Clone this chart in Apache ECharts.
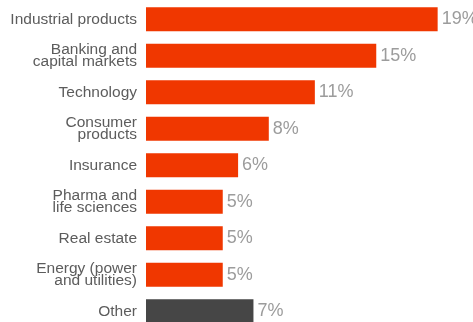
<!DOCTYPE html>
<html>
<head>
<meta charset="utf-8">
<script src="https://cdn.jsdelivr.net/npm/echarts@6/dist/echarts.min.js"></script>
<style>
	html, body { margin: 0; padding: 0; background: #fff; }
	#chart { width: 473px; height: 322px; }
</style>
</head>
<body>
<div id="chart"></div>
<script>
const categories = [
	"Industrial products",
	"Banking and\ncapital markets",
	"Technology",
	"Consumer\nproducts",
	"Insurance",
	"Pharma and\nlife sciences",
	"Real estate",
	"Energy (power\nand utilities)",
	"Other",
];
const shares = [19, 15, 11, 8, 6, 5, 5, 5, 7];
const highlight = "Other";

const chart = echarts.init(document.getElementById("chart"), null, { renderer: "canvas" });

chart.setOption({
	animation : false,
	grid      : {
		left            : 146,
		top             : 1,
		bottom          : -7.5,
		right           : 20,
		containLabel    : false,
		outerBoundsMode : "none",
	},
	xAxis: {
		type      : "value",
		min       : 0,
		max       : 20,
		show      : false,
		splitLine : { show: false },
	},
	yAxis: {
		type      : "category",
		inverse   : true,
		data      : categories,
		axisLine  : { show: false },
		axisTick  : { show: false },
		axisLabel : {
			margin     : 9,
			color      : "#5c5c5c",
			fontSize   : 15.5,
			lineHeight : 12.5,
			fontFamily : "Liberation Sans",
		},
	},
	series: [
		{
			type     : "bar",
			barWidth : 24,
			data     : shares.map((v, i) => ({
				value     : v,
				itemStyle : { color: categories[i] == highlight ? "#464646" : "#f03700" },
			})),
			label: {
				show       : true,
				position   : "right",
				distance   : 4,
				formatter  : p => `${p.value}%`,
				color      : "#9c9c9c",
				fontSize   : 18,
				fontFamily : "Liberation Sans",
			},
		},
	],
});
</script>
</body>
</html>
